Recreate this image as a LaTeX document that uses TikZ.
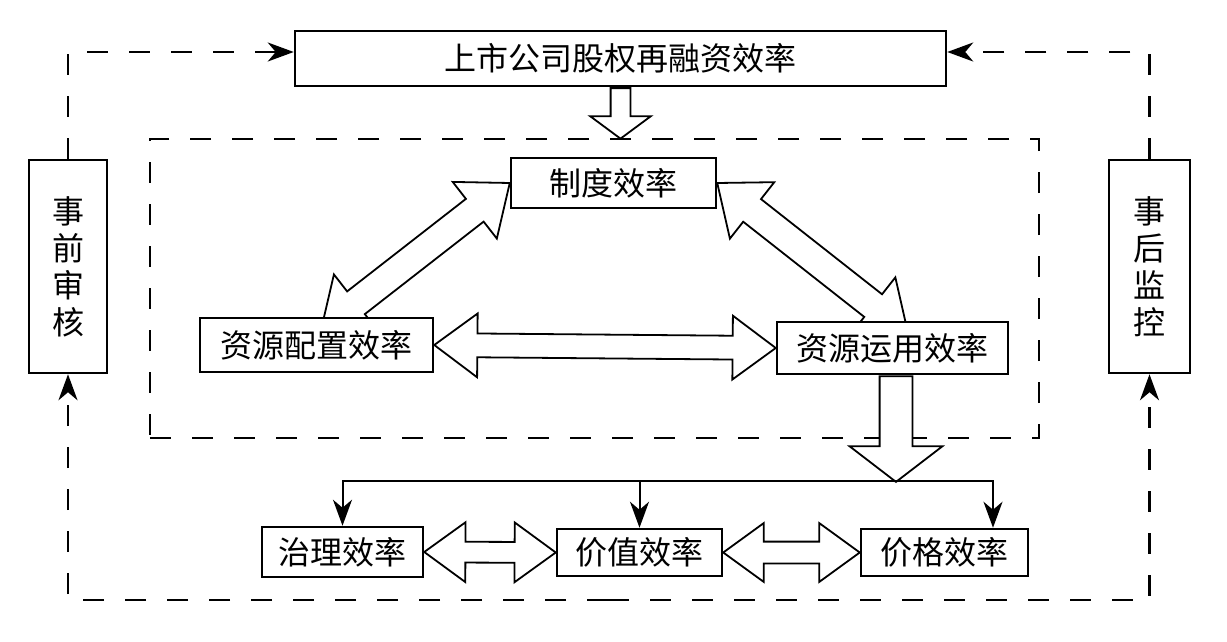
\documentclass[tikz,border=0pt]{standalone}
\usepackage{fontspec}
\newfontfamily\cjk{Noto Sans CJK SC}
\usetikzlibrary{arrows.meta,calc,shapes.arrows,backgrounds}

\tikzset{
  box/.style={draw, line width=2.5pt, fill=white, inner sep=0pt,
    font=\cjk\fontsize{32}{37}\selectfont},
  dashline/.style={line width=2.5pt, dash pattern=on 21pt off 21pt},
  headtip/.style={-{Stealth[length=26pt,width=19pt,inset=8pt]}},
  link/.style={line width=2pt, headtip},
  hollow/.style={draw, fill=white, line width=1.8pt, inner xsep=0pt},
}

% hollow arrow with two heads: from, to, body width, head width, tip angle
\newcommand{\twohead}[5]{%
  \path let \p1=(#1), \p2=(#2), \n1={atan2(\y2-\y1,\x2-\x1)},
    \n2={veclen(\x2-\x1,\y2-\y1)} in
    node[hollow, double arrow, rotate=\n1, minimum height=\n2,
      inner ysep={#3/2}, minimum width=#4pt, double arrow head extend={(#4-#3)/2},
      double arrow tip angle=#5] at ($(#1)!.5!(#2)$) {};}
% hollow arrow with one head
\newcommand{\onehead}[5]{%
  \path let \p1=(#1), \p2=(#2), \n1={atan2(\y2-\y1,\x2-\x1)},
    \n2={veclen(\x2-\x1,\y2-\y1)} in
    node[hollow, single arrow, anchor=tail, rotate=\n1, minimum height=\n2,
      inner ysep={#3/2}, minimum width=#4pt, single arrow head extend={(#4-#3)/2},
      single arrow tip angle=#5] at (#1) {};}

\begin{document}
\begin{tikzpicture}[x=1pt, y=-1pt]
  \useasboundingbox (0,0) rectangle (1227,642);

  % boxes
  \node[box, minimum width=651pt, minimum height=55pt] (top) at (620.5,58.5) {上市公司股权再融资效率};
  \node[box, minimum width=205pt, minimum height=50pt] (zhidu) at (613.5,183) {制度效率};
  \node[box, minimum width=233pt, minimum height=54pt] (peizhi) at (316.5,345) {资源配置效率};
  \node[box, minimum width=231pt, minimum height=52pt] (yunyong) at (892.5,348) {资源运用效率};
  \node[box, minimum width=161pt, minimum height=50pt] (zhili) at (342.5,552) {治理效率};
  \node[box, minimum width=165pt, minimum height=47pt] (jiazhi) at (639.5,552.5) {价值效率};
  \node[box, minimum width=167pt, minimum height=47pt] (jiage) at (944.5,552.5) {价格效率};
  \node[box, minimum width=78pt, minimum height=213pt, align=center] (qian) at (68,266.5) {事\\前\\审\\核};
  \node[box, minimum width=81pt, minimum height=213pt, align=center] (hou) at (1149.5,266.5) {事\\后\\监\\控};

  \coordinate (fork) at (896,481);
  \coordinate (loop) at (608,600);
  \coordinate (pzTip) at (321,330);
  \coordinate (yyTip) at (908,333);

  \begin{pgfonlayer}{background}
    \node[draw, dashline, minimum width=889pt, minimum height=299pt] (core) at (594.5,288.5) {};
    \onehead{top.south}{top.south |- core.north}{18}{59}{107}
    \onehead{fork |- yunyong.south}{fork}{31}{91}{105}
    \twohead{peizhi.east}{yunyong.west}{22}{62}{73}
    \twohead{pzTip}{zhidu.west}{27}{70}{78}
    \twohead{zhidu.east}{yyTip}{27}{70}{78}
    \twohead{zhili.east}{jiazhi.west}{19}{58}{72}
    \twohead{jiazhi.east}{jiage.west}{20}{57}{72}
  \end{pgfonlayer}

  % branches
  \draw[link] (fork) -| (zhili.north);
  \draw[link] (fork) -| (jiazhi.north);
  \draw[link] (fork) -| ($(jiage.north)+(48.5,0)$);

  % supervision loop
  \draw[dashline, headtip] (qian.north) |- ($(top.west)+(0,-6.5)$);
  \draw[dashline, headtip] (hou.north) |- ($(top.east)+(0,-6.5)$);
  \draw[dashline, headtip] (loop) -| (qian.south);
  \draw[dashline, headtip] (loop) -| (hou.south);
\end{tikzpicture}
\end{document}
